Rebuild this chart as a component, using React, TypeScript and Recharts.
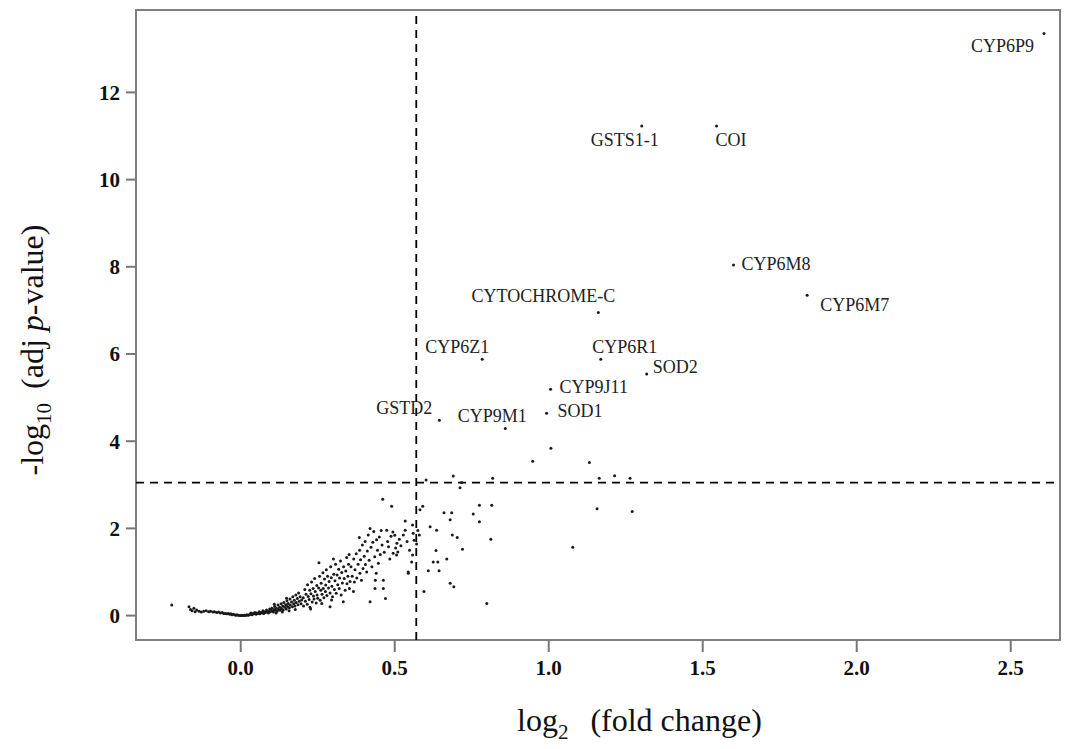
import {
  ScatterChart,
  Scatter,
  XAxis,
  YAxis,
  ReferenceLine,
  ReferenceArea,
  Label,
} from "recharts";

// labelled genes: log2 fold change and -log10 adj p
const geneNames = [
  "CYP6P9", "GSTS1-1", "COI", "CYP6M8", "CYP6M7", "CYTOCHROME-C", "CYP6R1",
  "SOD2", "CYP9J11", "SOD1", "CYP9M1", "CYP6Z1", "GSTD2",
];
const geneFC = [2.608, 1.302, 1.545, 1.6, 1.839, 1.161, 1.169, 1.318, 1.006, 0.993, 0.859, 0.784, 0.645];
const geneP = [13.35, 11.23, 11.23, 8.04, 7.35, 6.95, 5.88, 5.54, 5.19, 4.64, 4.29, 5.88, 4.48];

// unlabelled genes, [log2 FC, -log10 p]
const tailPoints = [
  [-0.224, 0.24], [-0.168, 0.2], [-0.163, 0.14], [-0.158, 0.11], [-0.152, 0.17], [-0.148, 0.09],
  [-0.143, 0.13], [-0.135, 0.1], [-0.128, 0.08], [-0.12, 0.1], [-0.112, 0.11], [-0.104, 0.09],
  [-0.098, 0.1], [-0.09, 0.08], [-0.085, 0.09], [-0.078, 0.07], [-0.072, 0.08], [-0.066, 0.06],
  [-0.06, 0.07], [-0.055, 0.05], [-0.05, 0.05], [-0.045, 0.04], [-0.04, 0.05], [-0.036, 0.03],
  [-0.032, 0.04], [-0.028, 0.02], [-0.024, 0.03], [-0.02, 0.02], [-0.016, 0.01], [-0.012, 0.02],
  [-0.008, 0.01], [-0.004, 0.0], [0.0, 0.0], [0.004, 0.01], [0.008, 0.0], [0.012, 0.01],
  [0.016, 0.0], [0.02, 0.02], [0.024, 0.01], [0.028, 0.02],
];
const lowPoints = [
  [0.031, 0.03], [0.033, 0.06], [0.037, 0.02], [0.04, 0.05], [0.043, 0.04], [0.046, 0.07],
  [0.05, 0.03], [0.052, 0.06], [0.057, 0.05], [0.06, 0.09], [0.062, 0.04], [0.066, 0.07],
  [0.07, 0.06], [0.072, 0.11], [0.075, 0.05], [0.078, 0.09], [0.08, 0.07], [0.084, 0.13],
  [0.086, 0.08], [0.089, 0.1], [0.09, 0.06], [0.094, 0.15], [0.096, 0.09], [0.098, 0.12],
  [0.101, 0.17], [0.104, 0.1], [0.106, 0.08], [0.108, 0.14], [0.11, 0.21], [0.113, 0.12],
  [0.116, 0.17], [0.118, 0.1], [0.121, 0.24], [0.123, 0.14], [0.126, 0.19], [0.128, 0.12],
  [0.131, 0.27], [0.132, 0.16], [0.136, 0.22], [0.138, 0.13], [0.14, 0.3], [0.143, 0.19],
  [0.146, 0.25], [0.148, 0.15], [0.15, 0.34], [0.152, 0.21], [0.154, 0.28], [0.158, 0.18],
  [0.16, 0.38], [0.161, 0.24], [0.165, 0.31], [0.168, 0.2], [0.169, 0.43], [0.172, 0.27],
  [0.174, 0.35], [0.176, 0.22], [0.179, 0.47], [0.18, 0.3], [0.184, 0.39], [0.186, 0.25],
  [0.188, 0.52], [0.19, 0.33], [0.193, 0.43], [0.196, 0.27], [0.198, 0.36], [0.115, 0.06],
  [0.135, 0.08], [0.157, 0.11], [0.177, 0.14], [0.109, 0.26], [0.149, 0.4],
];
const midPoints = [
  [0.203, 0.41], [0.204, 0.22], [0.208, 0.6], [0.21, 0.33], [0.212, 0.49], [0.216, 0.26],
  [0.217, 0.71], [0.219, 0.44], [0.222, 0.37], [0.224, 0.58], [0.225, 0.19], [0.228, 0.5],
  [0.23, 0.77], [0.232, 0.31], [0.235, 0.62], [0.236, 0.45], [0.238, 0.38], [0.24, 0.85],
  [0.242, 0.55], [0.245, 0.29], [0.247, 0.69], [0.248, 0.47], [0.25, 0.4], [0.253, 0.63],
  [0.254, 1.21], [0.256, 0.9], [0.258, 0.35], [0.26, 0.58], [0.261, 0.74], [0.264, 0.49],
  [0.267, 0.98], [0.268, 0.62], [0.27, 0.41], [0.272, 0.84], [0.275, 0.55], [0.276, 0.7],
  [0.278, 1.05], [0.28, 0.46], [0.282, 0.9], [0.285, 0.63], [0.287, 0.78], [0.29, 0.2],
  [0.29, 0.52], [0.292, 1.12], [0.294, 0.87], [0.296, 0.67], [0.298, 0.43], [0.301, 1.3],
  [0.302, 0.95], [0.304, 0.6], [0.306, 0.8], [0.308, 1.18], [0.31, 0.51], [0.313, 0.93],
  [0.315, 0.71], [0.318, 1.06], [0.32, 0.62], [0.321, 0.86], [0.324, 1.25], [0.326, 0.47],
  [0.328, 0.99], [0.33, 0.75], [0.333, 0.32], [0.334, 1.12], [0.336, 0.85], [0.339, 0.58],
  [0.341, 1.02], [0.344, 1.33], [0.345, 0.73], [0.348, 0.9], [0.35, 1.18], [0.352, 1.4],
  [0.353, 0.62], [0.227, 0.15], [0.263, 0.28], [0.295, 0.36],
];
const highPoints = [
  [0.355, 0.78], [0.358, 1.12], [0.362, 0.9], [0.366, 0.55], [0.367, 1.3], [0.369, 0.77],
  [0.371, 1.05], [0.375, 1.42], [0.377, 0.86], [0.381, 1.18], [0.385, 1.79], [0.386, 1.5],
  [0.387, 0.97], [0.389, 1.28], [0.392, 0.81], [0.395, 1.62], [0.397, 1.08], [0.401, 1.36],
  [0.404, 1.7], [0.405, 1.17], [0.409, 1.0], [0.411, 1.48], [0.414, 1.85], [0.417, 1.27],
  [0.42, 2.0], [0.42, 0.32], [0.423, 1.57], [0.426, 1.12], [0.429, 1.68], [0.432, 1.93],
  [0.435, 1.35], [0.436, 0.62], [0.437, 0.81], [0.44, 0.97], [0.441, 1.74], [0.444, 1.5],
  [0.447, 1.2], [0.45, 1.8], [0.453, 1.4], [0.456, 1.95], [0.459, 1.62], [0.461, 2.67],
  [0.463, 0.62], [0.463, 0.81], [0.466, 1.45], [0.47, 0.39], [0.474, 1.96], [0.477, 1.7],
  [0.48, 1.58], [0.484, 1.3], [0.488, 1.82], [0.49, 2.51], [0.494, 1.92], [0.495, 1.43],
  [0.5, 1.84], [0.503, 1.55], [0.506, 1.39], [0.507, 1.66], [0.51, 1.46], [0.515, 1.75],
  [0.52, 1.6], [0.528, 1.85], [0.534, 2.17], [0.534, 1.96], [0.54, 1.7], [0.544, 1.0],
  [0.544, 0.97], [0.548, 1.5], [0.555, 1.23], [0.558, 2.08], [0.558, 1.39], [0.56, 1.89],
  [0.563, 1.73], [0.571, 1.64], [0.575, 1.95], [0.58, 1.85], [0.582, 2.43], [0.591, 2.51],
];
const rightPoints = [
  [0.595, 0.55], [0.602, 3.11], [0.609, 1.03], [0.615, 2.04], [0.625, 1.23], [0.634, 1.49],
  [0.636, 1.96], [0.64, 1.23], [0.644, 1.03], [0.66, 2.36], [0.669, 1.3], [0.68, 2.2],
  [0.68, 0.74], [0.685, 2.36], [0.687, 1.85], [0.69, 3.2], [0.692, 0.66], [0.703, 1.79],
  [0.712, 2.93], [0.717, 3.05], [0.72, 1.52], [0.755, 2.33], [0.775, 2.53], [0.775, 2.15],
  [0.799, 0.28], [0.812, 1.75], [0.815, 2.53], [0.818, 3.15], [0.948, 3.54], [1.007, 3.84],
  [1.078, 1.57], [1.132, 3.51], [1.157, 2.45], [1.164, 3.15], [1.214, 3.21], [1.264, 3.15],
  [1.271, 2.39],
];

const xTicks = [0, 0.5, 1, 1.5, 2, 2.5];
const yTicks = [0, 2, 4, 6, 8, 10, 12];
const fcCutoff = 0.57;
const pCutoff = 3.05;

// where each gene name sits relative to its point
const labelPos: Record<string, { anchor: string; dx: number; dy: number }> = {
  "CYP6P9": { anchor: "end", dx: -10, dy: 12 },
  "GSTS1-1": { anchor: "middle", dx: -17, dy: 14 },
  "COI": { anchor: "start", dx: -1, dy: 14 },
  "CYP6M8": { anchor: "start", dx: 8, dy: -1 },
  "CYP6M7": { anchor: "start", dx: 13, dy: 10 },
  "CYTOCHROME-C": { anchor: "end", dx: 17, dy: -17 },
  "CYP6R1": { anchor: "middle", dx: 24, dy: -12 },
  "SOD2": { anchor: "start", dx: 6, dy: -7 },
  "CYP9J11": { anchor: "start", dx: 9, dy: -2 },
  "SOD1": { anchor: "start", dx: 11, dy: -2 },
  "CYP9M1": { anchor: "middle", dx: -13, dy: -13 },
  "CYP6Z1": { anchor: "middle", dx: -25, dy: -12 },
  "GSTD2": { anchor: "end", dx: -7, dy: -12 },
};

const serif = "'Liberation Serif', 'Times New Roman', serif";

const background = [...tailPoints, ...lowPoints, ...midPoints, ...highPoints, ...rightPoints].map(
  ([fc, p]) => ({ fc, p })
);
const genes = geneNames.map((name, i) => ({ name, fc: geneFC[i], p: geneP[i] }));

const Dot = (props: any) => <circle cx={props.cx} cy={props.cy} r={1.5} fill="#1a1a1a" />;

const GeneDot = (props: any) => {
  const pos = labelPos[props.payload.name];
  return (
    <g>
      <circle cx={props.cx} cy={props.cy} r={1.5} fill="#1a1a1a" />
      <text
        x={props.cx + pos.dx}
        y={props.cy + pos.dy}
        textAnchor={pos.anchor}
        dominantBaseline="central"
        fontFamily={serif}
        fontSize={18}
        fill="#222"
      >
        {props.payload.name}
      </text>
    </g>
  );
};

const XTitle = () => (
  <text x={517} y={731} textAnchor="start" fontFamily={serif} fontSize={32} fill="#111">
    log<tspan fontSize={21} dy={8}>2</tspan>
    <tspan dx={22} dy={-8}>(fold change)</tspan>
  </text>
);

const YTitle = () => (
  <text
    transform="translate(43, 350) rotate(-90)"
    textAnchor="middle"
    fontFamily={serif}
    fontSize={32}
    fill="#111"
  >
    -log<tspan fontSize={21} dy={8}>10</tspan>
    <tspan dx={14} dy={-8}>(adj </tspan>
    <tspan fontStyle="italic">p</tspan>
    <tspan>-value)</tspan>
  </text>
);

export default function App() {
  return (
    <div style={{ position: "absolute", left: 0, top: 0, background: "#fff" }}>
      <ScatterChart width={1066} height={749} margin={{ top: 10, right: 6, bottom: 0, left: 0 }}>
        <XAxis
          type="number"
          dataKey="fc"
          domain={[-0.34, 2.66]}
          ticks={xTicks}
          allowDataOverflow
          axisLine={false}
          tickSize={12}
          tickMargin={8}
          tickLine={{ stroke: "#777", strokeWidth: 2 }}
          tick={{ fontFamily: serif, fontSize: 21, fontWeight: "bold", fill: "#111" }}
          tickFormatter={(v) => v.toFixed(1)}
          height={109}
        >
          <Label content={<XTitle />} />
        </XAxis>
        <YAxis
          type="number"
          dataKey="p"
          domain={[-0.56, 13.89]}
          ticks={yTicks}
          allowDataOverflow
          axisLine={false}
          tickSize={10}
          tickMargin={6}
          tickLine={{ stroke: "#777", strokeWidth: 2 }}
          tick={{ fontFamily: serif, fontSize: 21, fontWeight: "bold", fill: "#111" }}
          width={136}
        >
          <Label content={<YTitle />} />
        </YAxis>
        <ReferenceArea
          x1={-0.34}
          x2={2.66}
          y1={-0.56}
          y2={13.89}
          fill="none"
          stroke="#7f7f7f"
          strokeWidth={2}
          ifOverflow="visible"
        />
        <ReferenceLine x={fcCutoff} stroke="#000" strokeWidth={1.8} strokeDasharray="8 6" />
        <ReferenceLine y={pCutoff} stroke="#000" strokeWidth={1.8} strokeDasharray="8 6" />
        <Scatter data={background} shape={<Dot />} isAnimationActive={false} />
        <Scatter data={genes} shape={<GeneDot />} isAnimationActive={false} />
      </ScatterChart>
    </div>
  );
}
